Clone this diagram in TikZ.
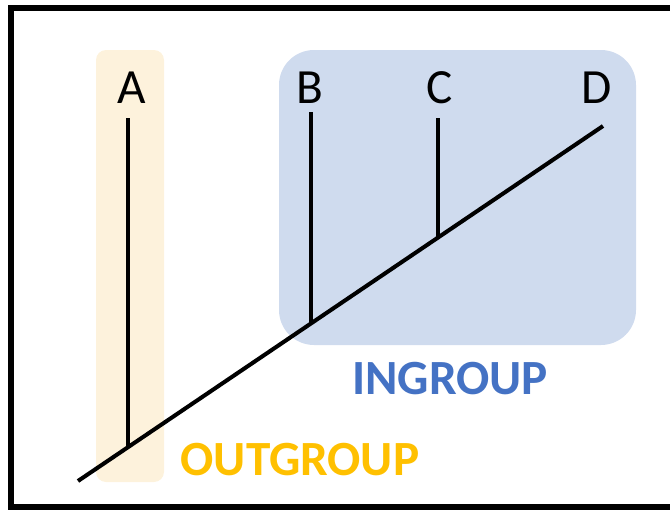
\documentclass[tikz,border=0pt]{standalone}
\usepackage{fontspec}
\setmainfont{Carlito}
\usepackage{xcolor}
\usetikzlibrary{positioning}
\definecolor{outfill}{HTML}{FDF2DC}
\definecolor{infill}{HTML}{CFDBEE}
\definecolor{outtext}{HTML}{FFC000}
\definecolor{intext}{HTML}{4472C4}
\tikzset{
    branch/.style={line width=2.3pt, line cap=butt},
    taxon/.style={font=\fontsize{28}{30}\selectfont, inner sep=0pt},
    grouplabel/.style={font=\fontsize{28}{30}\selectfont\bfseries, inner sep=0pt}
}

\begin{document}
\begin{tikzpicture}[x=0.2mm, y=-0.2mm]
    \useasboundingbox (0,0) rectangle (670,510);
    % Frame
    \draw[line width=2.9pt] (670,8) -- (11,8) -- (11,507) -- (670,507);

    % Group boxes
    \fill[outfill, rounded corners=2mm] (96,50) rectangle (164,482);
    \fill[infill, rounded corners=7mm] (279,50) rectangle (636,345);

    % Tree
    \coordinate (root) at (78,481);
    \coordinate (tipD) at (603,126);
    \coordinate (tipA) at (128,118);
    \coordinate (tipB) at (311,112);
    \coordinate (tipC) at (438,118);
    \coordinate (jA) at (128,447);
    \coordinate (jB) at (311,323);
    \coordinate (jC) at (438,238);
    \draw[branch] (root) -- (tipD);
    \draw[branch] (tipA) -- (jA);
    \draw[branch] (tipB) -- (jB);
    \draw[branch] (tipC) -- (jC);

    % Taxa
    \node[taxon] (A) at (132,88) {A};
    \node[taxon] (B) at (310,88) {B};
    \node[taxon] (C) at (440,88) {C};
    \node[taxon] (D) at (597,88) {D};

    % Group labels
    \node[grouplabel, text=intext] (ingroup) at (450,379) {INGROUP};
    \node[grouplabel, text=outtext] (outgroup) at (300,460) {OUTGROUP};
\end{tikzpicture}
\end{document}
